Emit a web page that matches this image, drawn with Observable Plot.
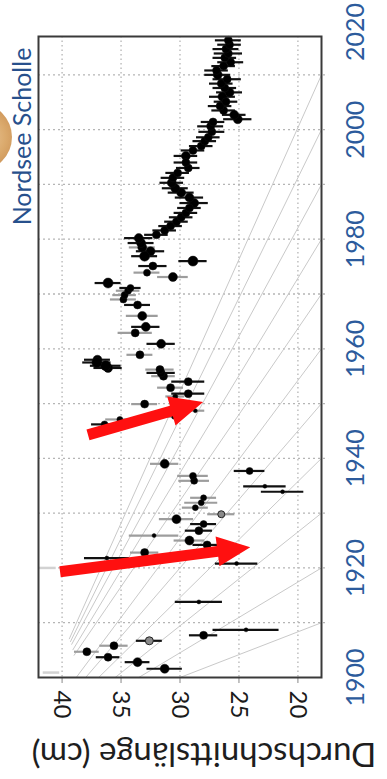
<!DOCTYPE html>
<html>
<head>
<meta charset="utf-8">
<script src="https://cdn.jsdelivr.net/npm/d3@7"></script>
<script src="https://cdn.jsdelivr.net/npm/@observablehq/plot@0.6"></script>
<style>
  html, body { margin: 0; padding: 0; background: #fff; }
  #wrap { position: relative; width: 387px; height: 779px; overflow: hidden; }
  #logo { position: absolute; left: -56px; top: 103px; width: 68px; height: 68px; border-radius: 50%;
          background: radial-gradient(circle at 60% 50%, #e7bd86 0%, #d49a52 40%, #bf7a33 70%, #efd6b3 100%);
          z-index: 2; opacity: 0.85; }
</style>
</head>
<body>
<div id="wrap"><div id="logo"></div></div>
<script>
// ---- chart values ----
const titleText = "Nordsee Scholle";
const axisTitle = "Durchschnittslänge (cm)";
const lengthTicks = [40, 35, 30, 25, 20];
const yearGrid = [1910, 1920, 1930, 1940, 1950, 1960, 1970, 1980, 1990, 2000, 2010];
const yearLabels = [1900, 1920, 1940, 1960, 1980, 2000, 2020];

const years = [1900.9,1901.6,1902.8,1903.7,1904.7,1905.8,1906.7,1907.7,1908.7,1913.8,
  1920.0,1920.8,1921.8,1922.8,1924.2,1925.0,1925.9,1926.8,1928.0,1928.9,
  1929.8,1931.0,1931.9,1932.8,1933.9,1934.9,1935.9,1936.8,1937.7,1939.0,
  1946.2,1947.1,1947.6,1948.7,1949.9,1951.3,1951.8,1952.9,1954.0,1955.0,
  1955.6,1956.2,1956.5,1956.9,1957.5,1958.0,1958.9,1960.9,1962.9,1964.0,
  1966.0,1968.0,1969.0,1969.8,1970.6,1971.1,1972.0,1973.1,1973.9,1975.1,
  1976.0,1976.9,1977.8,1978.5,1979.3,1980.2,1980.8,1981.6,1982.4,1983.2,
  1984.0,1984.8,1985.7,1986.6,1987.6,1988.5,1989.3,1990.3,1991.2,1992.1,
  1993.0,1994.0,1995.2,1996.2,1997.0,1997.9,1998.6,1999.6,2000.6,2001.4,
  2001.9,2002.7,2003.5,2004.3,2005.1,2006.0,2006.8,2007.6,2008.4,2009.2,
  2010.0,2010.8,2011.6,2012.3,2013.1,2013.9,2014.7,2015.5,2016.3];
const lengths = [40.9,31.3,33.6,36.1,37.9,35.6,32.6,28.0,24.4,28.4,
  41.2,25.2,36.2,33.0,27.7,29.2,32.2,28.4,28.0,30.3,
  26.5,28.7,28.2,28.0,21.3,22.8,28.8,28.9,24.1,31.3,
  36.4,35.1,30.5,28.7,33.0,30.4,29.3,30.8,29.3,31.4,
  31.6,31.7,36.1,36.3,37.05,37.0,33.4,31.6,33.8,32.9,
  33.2,33.6,34.8,34.7,34.4,34.2,36.1,30.6,32.8,32.3,
  28.9,33.0,32.5,33.2,33.3,33.5,32.0,31.3,30.8,30.3,
  29.9,29.5,29.2,28.8,29.2,29.9,30.4,30.7,30.6,30.2,
  29.3,29.5,29.5,28.9,28.2,27.9,27.6,27.3,27.4,27.2,
  25.1,25.4,26.3,26.6,26.1,26.4,25.8,26.2,26.5,26.0,
  26.8,26.9,26.3,25.7,26.2,25.9,26.1,25.8,25.9];
const errors = [0.7,1.5,1.05,1.0,1.05,1.2,1.1,1.2,2.8,2.0,
  0.7,1.8,1.9,1.2,1.2,1.3,2.1,1.15,1.1,1.45,
  1.15,1.1,1.4,1.1,1.8,1.8,1.3,1.3,1.3,1.2,
  1.1,1.2,0.9,0.8,1.1,0.8,1.4,1.1,1.4,1.0,
  1.2,1.2,1.2,1.3,1.2,1.1,1.1,1.2,1.45,1.2,
  1.35,1.1,1.1,1.0,1.0,0.9,1.1,1.3,1.1,1.2,
  1.2,1.1,1.2,1.1,1.1,1.2,1.0,1.0,1.0,1.0,
  1.0,1.0,1.0,1.2,1.2,1.1,1.1,1.0,1.0,1.0,
  1.0,1.0,1.0,1.0,1.0,1.0,1.0,1.1,1.1,1.0,
  1.2,1.0,1.0,1.0,1.0,1.1,1.1,1.0,1.0,1.2,
  1.1,1.0,1.0,1.1,1.0,1.2,1.1,1.0,1.1];
const radii = [0,4.5,4.5,4,4,4,4,4,2,2,
  0,2,2,4,4,4.5,2,4,3.5,4.5,
  3.5,3,3,3,2,2,3.5,3.5,3.5,4.5,
  3.5,3,2.5,2,4,2.5,4,4,4,4,
  4,4,4.5,5,5,4.5,4,4.5,4,4.5,
  4.5,4,3.5,3.5,3.5,3.5,5,4.5,3.5,4,
  5,5,4.5,4.5,4.5,4.5,4,4,4,4,
  4,4,4,4.5,4.5,4.5,4.5,4.5,4,4,
  4,4,4.5,4,4,4,4,4,4,4,
  4.5,4.5,4,4,4,4.5,4.5,4,4,4,
  4.5,4,4,4,4,4,4,4,4];
// bar tone: k = black, g = grey, l = faint
const barTone = ["l","k","k","k","g","g","k","k","k","k",
  "l","k","k","g","k","g","g","k","k","g",
  "g","g","g","g","k","k","g","g","k","g",
  "k","g","g","g","g","g","k","g","k","g",
  "k","g","k","k","k","k","g","k","g","k",
  "g","k","g","g","g","k","k","g","g","k",
  "k","k","k","g","k","k","k","k","k","k",
  "k","k","k","k","k","k","k","k","k","k",
  "k","k","k","k","k","k","k","k","k","k",
  "k","k","k","k","k","k","k","k","k","k",
  "k","k","k","k","k","k","k","k","k"];
const dotTone = years.map((y, i) => (i === 6 || i === 20) ? "g" : "k");

// grey guide lines: start (length, year) -> end at right edge in year
const lineStartLen  = [30.0, 33.5, 35.5, 36.9, 38.0, 38.8, 39.0, 39.1, 39.2, 39.3, 39.4];
const lineStartYear = [1900, 1900, 1900, 1900, 1900, 1900, 1904, 1905, 1906, 1906.5, 1907];
const lineEndLen    = [18, 18, 18, 18, 18, 18, 18, 18, 18, 18, 18];
const lineEndYear   = [1910, 1920, 1930, 1940, 1950, 1960, 1970, 1980, 1990, 2000, 2010];

// red annotation arrows
const arrowTailLen  = [37.76, 40.13];
const arrowTailYear = [1944.2, 1919.2];
const arrowTipLen   = [28.0, 24.0];
const arrowTipYear  = [1950.2, 1923.7];

// ---- build tables ----
const pts = years.map((y, i) => ({year: y, len: lengths[i], err: errors[i], r: radii[i], bar: barTone[i], dot: dotTone[i]}));
const guides = lineEndYear.map((e, i) => ({x1: lineStartLen[i], y1: lineStartYear[i], x2: lineEndLen[i], y2: e}));

const blue = "#2c5b9c";
const ns = "http://www.w3.org/2000/svg";

function arrows(index, scales) {
  const sx = scales.x, sy = scales.y;
  const g = document.createElementNS(ns, "g");
  for (let i = 0; i < arrowTailLen.length; i++) {
    const x0 = sx(arrowTailLen[i]), y0 = sy(arrowTailYear[i]);
    const x1 = sx(arrowTipLen[i]), y1 = sy(arrowTipYear[i]);
    const dx = x1 - x0, dy = y1 - y0, L = Math.hypot(dx, dy);
    const ux = dx / L, uy = dy / L, nx = -uy, ny = ux;
    const hw = 5.5, hl = 33, hh = 15;
    const bx = x1 - ux * hl, by = y1 - uy * hl;
    const p = [[x0 + nx*hw, y0 + ny*hw], [bx + nx*hw, by + ny*hw], [bx + nx*hh, by + ny*hh], [x1, y1],
               [bx - nx*hh, by - ny*hh], [bx - nx*hw, by - ny*hw], [x0 - nx*hw, y0 - ny*hw]];
    const poly = document.createElementNS(ns, "polygon");
    poly.setAttribute("points", p.map(q => q.join(",")).join(" "));
    poly.setAttribute("fill", "#ff1010");
    g.appendChild(poly);
  }
  return g;
}

const radiusGroups = d3.groups(pts.filter(d => d.r > 0), d => d.r);
const dotMarks = [];
for (const [r, arr] of radiusGroups) {
  dotMarks.push(Plot.dot(arr.filter(d => d.dot === "k"), {x: "len", y: "year", r, fill: "#000", stroke: "#111", strokeWidth: 0.5}));
  dotMarks.push(Plot.dot(arr.filter(d => d.dot === "g"), {x: "len", y: "year", r, fill: "#8a8a8a", stroke: "#222", strokeWidth: 1}));
}

const centered = {textAnchor: "middle", lineAnchor: "middle"};

const chart = Plot.plot({
  width: 387,
  height: 779,
  marginLeft: 38,
  marginRight: 66,
  marginTop: 36,
  marginBottom: 102,
  x: {domain: [42, 18], axis: null},
  y: {domain: [1900, 2017], axis: null},
  style: {fontFamily: "Lato, 'Open Sans', sans-serif", background: "transparent", overflow: "visible"},
  marks: [
    Plot.ruleX(lengthTicks, {x: d => d, stroke: "#b5b5b5", strokeWidth: 1.3, strokeDasharray: "1.5,3"}),
    Plot.ruleY(yearGrid, {y: d => d, x1: 42, x2: 17.4, stroke: "#b5b5b5", strokeWidth: 1.3, strokeDasharray: "2,3"}),
    Plot.ruleX(lengthTicks, {x: d => d, y1: 1900, y2: 1898.9, stroke: "#888", strokeWidth: 1}),
    Plot.link(guides, {x1: "x1", y1: "y1", x2: "x2", y2: "y2", stroke: "#c9c9c9", strokeWidth: 1}),
    Plot.ruleY(pts.filter(d => d.bar === "l"), {y: "year", x1: d => d.len - d.err, x2: d => d.len + d.err, stroke: "#d2d2d2", strokeWidth: 2.5}),
    Plot.ruleY(pts.filter(d => d.bar === "g"), {y: "year", x1: d => d.len - d.err, x2: d => d.len + d.err, stroke: "#9d9d9d", strokeWidth: 2.2}),
    Plot.ruleY(pts.filter(d => d.bar === "k"), {y: "year", x1: d => d.len - d.err, x2: d => d.len + d.err, stroke: "#111", strokeWidth: 2.2}),
    ...dotMarks,
    Plot.frame({stroke: "#3a3a3a", strokeWidth: 2}),
    arrows,
    Plot.text(yearLabels.filter(y => y < 2017), {y: d => d, text: d => String(d), frameAnchor: "right", dx: 34, rotate: -90, fontSize: 25, fill: blue, ...centered}),
    Plot.text(yearLabels.filter(y => y >= 2017), {y: d => d, text: d => String(d), frameAnchor: "right", dx: 34, dy: 12, rotate: -90, fontSize: 25, fill: blue, ...centered}),
    Plot.text(lengthTicks, {x: d => d, text: d => String(d), frameAnchor: "bottom", dy: 27, rotate: 90, fontSize: 24, fill: "#1b1b1b", ...centered}),
    Plot.text([axisTitle], {text: d => d, frameAnchor: "bottom", dx: 24, dy: 76, rotate: 180, fontSize: 33, fill: "#1e1e1e", ...centered}),
    Plot.text([titleText], {text: d => d, frameAnchor: "top-left", dx: -16, dy: 100, rotate: -90, fontSize: 25, fill: "#27508c", ...centered})
  ]
});
document.getElementById("wrap").appendChild(chart);
</script>
</body>
</html>
